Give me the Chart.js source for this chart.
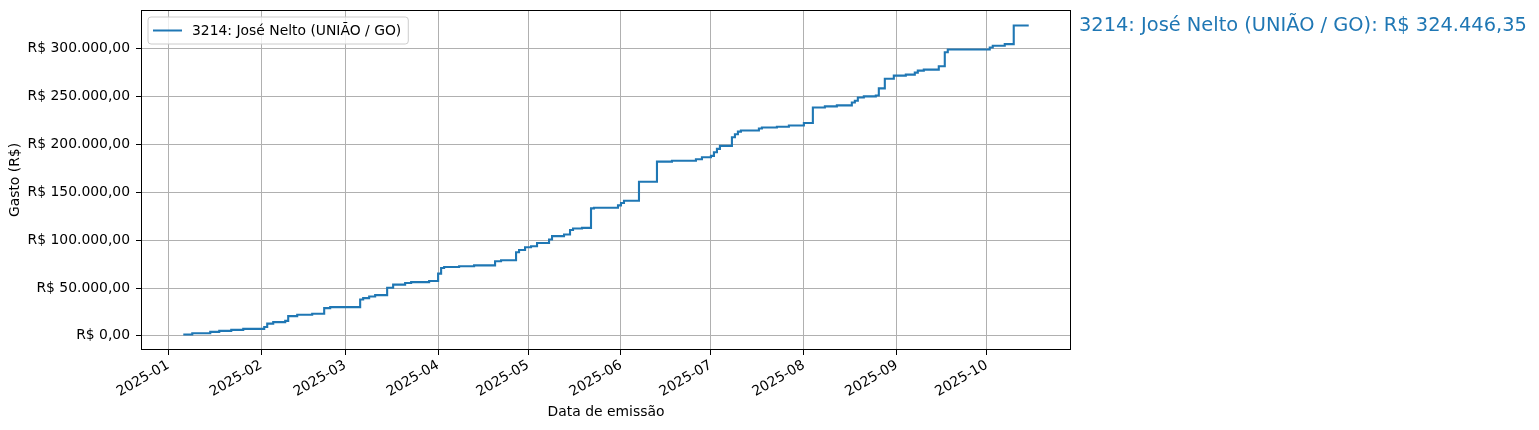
<!DOCTYPE html>
<html><head><meta charset="utf-8">
<script src="https://cdn.jsdelivr.net/npm/chart.js@4/dist/chart.umd.min.js"></script>
<style>html,body{margin:0;padding:0;background:#fff}#wrap{width:1539px;height:430px;position:relative}</style>
</head><body><div id="wrap"><canvas id="c"></canvas></div>
<script>
const seriesLabel = '3214: José Nelto (UNIÃO / GO)';
const totalLabel = 'R$ 324.446,35';
const xAxisTitle = 'Data de emissão';
const yAxisTitle = 'Gasto (R$)';

const emissionDates = [
 '2025-01-06','2025-01-09','2025-01-15','2025-01-18','2025-01-22','2025-01-26',
 '2025-02-02','2025-02-03','2025-02-05','2025-02-09','2025-02-10','2025-02-13','2025-02-18','2025-02-22','2025-02-24',
 '2025-03-06','2025-03-07','2025-03-09','2025-03-11','2025-03-15','2025-03-17','2025-03-21','2025-03-23','2025-03-29',
 '2025-04-01','2025-04-02','2025-04-03','2025-04-08','2025-04-13','2025-04-20','2025-04-22','2025-04-27','2025-04-28','2025-04-30',
 '2025-05-02','2025-05-04','2025-05-08','2025-05-09','2025-05-13','2025-05-15','2025-05-16','2025-05-19','2025-05-22','2025-05-23','2025-05-31',
 '2025-06-01','2025-06-02','2025-06-07','2025-06-13','2025-06-18','2025-06-26','2025-06-28',
 '2025-07-01','2025-07-02','2025-07-03','2025-07-04','2025-07-08','2025-07-09','2025-07-10','2025-07-11','2025-07-17','2025-07-18','2025-07-23','2025-07-27',
 '2025-08-01','2025-08-04','2025-08-08','2025-08-12','2025-08-17','2025-08-18','2025-08-19','2025-08-21','2025-08-25','2025-08-26','2025-08-28','2025-08-31',
 '2025-09-04','2025-09-07','2025-09-08','2025-09-10','2025-09-15','2025-09-17','2025-09-18',
 '2025-10-02','2025-10-03','2025-10-07','2025-10-10','2025-10-15'
];
const cumulativeSpend = [
 1360,2720,4190,5230,6280,7330,
 9300,12800,14300,15700,20600,22000,23100,29000,30000,
 38000,39400,41200,42600,50300,53500,55200,56200,57300,
 65000,70900,72000,72700,73700,77900,79000,87400,89800,92600,
 93700,97100,100700,104200,105900,110700,112200,112900,133200,133900,136400,
 138800,141200,161100,182100,183100,184600,186700,
 188100,191900,195400,198600,207600,210800,213500,214600,216700,217800,218500,219900,
 222500,238700,239900,240900,243900,245700,249200,250300,251300,258700,268800,272000,
 273000,275100,277200,278300,281800,296500,299300,
 301400,303200,304900,324446.35,324446.35
];
const xTickDates = ['2025-01-01','2025-02-01','2025-03-01','2025-04-01','2025-05-01','2025-06-01','2025-07-01','2025-08-01','2025-09-01','2025-10-01'];
const xTickLabels = ['2025-01','2025-02','2025-03','2025-04','2025-05','2025-06','2025-07','2025-08','2025-09','2025-10'];
const yTickValues = [0,50000,100000,150000,200000,250000,300000];
const yTickLabels = ['R$ 0,00','R$ 50.000,00','R$ 100.000,00','R$ 150.000,00','R$ 200.000,00','R$ 250.000,00','R$ 300.000,00'];

const BASE = Date.UTC(2025,0,1);
function dayNum(s){const p=s.split('-').map(Number);return (Date.UTC(p[0],p[1]-1,p[2])-BASE)/86400000;}

const FONT = 'DejaVu Sans';
Chart.defaults.font.family = FONT;
Chart.defaults.font.size = 13.9;
Chart.defaults.color = '#000';

const pts = emissionDates.map((d,i)=>({x:dayNum(d),y:cumulativeSpend[i]}));
const xs = pts.map(p=>p.x), ys = pts.map(p=>p.y);
const x0=Math.min(...xs), x1=Math.max(...xs), xp=(x1-x0)*0.05;
const y0=Math.min(...ys), y1=Math.max(...ys), yp=(y1-y0)*0.05;
const LINE_COLOR = '#1f77b4';

const framePlugin = {
  id:'frame',
  afterDatasetsDraw(chart){
    const {ctx, chartArea:a} = chart;
    ctx.save(); ctx.strokeStyle='#000'; ctx.lineWidth=1;
    const L=Math.round(a.left)+0.5, T=Math.round(a.top)+0.5, R=Math.round(a.right)-0.5, B=Math.round(a.bottom)-0.5;
    ctx.strokeRect(L, T, R-L, B-T);
    ctx.restore();
  }
};
const legendPlugin = {
  id:'legendBox',
  afterDraw(chart){
    const {ctx, chartArea:a} = chart;
    ctx.save();
    ctx.font = '13.9px "'+FONT+'"';
    const tw = ctx.measureText(seriesLabel).width;
    const L = a.left+7, T = a.top+7, W = 44+tw+7, H = 27, r = 3;
    ctx.beginPath();
    ctx.moveTo(L+r,T); ctx.lineTo(L+W-r,T); ctx.quadraticCurveTo(L+W,T,L+W,T+r);
    ctx.lineTo(L+W,T+H-r); ctx.quadraticCurveTo(L+W,T+H,L+W-r,T+H);
    ctx.lineTo(L+r,T+H); ctx.quadraticCurveTo(L,T+H,L,T+H-r);
    ctx.lineTo(L,T+r); ctx.quadraticCurveTo(L,T,L+r,T); ctx.closePath();
    ctx.fillStyle='rgba(255,255,255,0.8)'; ctx.fill();
    ctx.strokeStyle='#cccccc'; ctx.lineWidth=1; ctx.stroke();
    const cy = T+H/2;
    ctx.beginPath(); ctx.moveTo(L+5,cy); ctx.lineTo(L+34,cy);
    ctx.strokeStyle=LINE_COLOR; ctx.lineWidth=2; ctx.stroke();
    ctx.fillStyle='#000'; ctx.textAlign='left'; ctx.textBaseline='middle';
    ctx.fillText(seriesLabel, L+44, cy+1);
    ctx.restore();
  }
};
const endLabelPlugin = {
  id:'endLabel',
  afterDraw(chart){
    const {ctx, chartArea:a, scales} = chart;
    const last = cumulativeSpend[cumulativeSpend.length-1];
    ctx.save();
    ctx.font = '19.4px "'+FONT+'"';
    ctx.fillStyle = LINE_COLOR; ctx.textAlign='left'; ctx.textBaseline='middle';
    ctx.fillText(seriesLabel+': '+totalLabel, a.right+8, scales.y.getPixelForValue(last)+1);
    ctx.restore();
  }
};

new Chart(document.getElementById('c'), {
  type:'line',
  data:{datasets:[{label:seriesLabel, data:pts, borderColor:LINE_COLOR, borderWidth:2.1, pointRadius:0, stepped:true, fill:false, tension:0}]},
  options:{
    responsive:true, maintainAspectRatio:false, animation:false,
    layout:{padding:{left:0, top:10, right:468, bottom:0}},
    plugins:{legend:{display:false}, tooltip:{enabled:false}},
    scales:{
      x:{
        type:'linear', min:x0-xp, max:x1+xp,
        afterBuildTicks(s){ s.ticks = xTickDates.map(d=>({value:dayNum(d)})); },
        ticks:{autoSkip:false, maxRotation:30, minRotation:30, padding:2,
          callback(v){ const i = xTickDates.findIndex(d=>dayNum(d)===v); return i>=0?xTickLabels[i]:''; }},
        grid:{color:'#b0b0b0', lineWidth:1, tickColor:'#000', tickLength:5},
        border:{display:false},
        title:{display:true, text:xAxisTitle, padding:{top:0,bottom:9}},
        afterFit(s){ s.height = 80; s.paddingLeft = 0; s.paddingRight = 0; }
      },
      y:{
        type:'linear', min:y0-yp, max:y1+yp,
        afterBuildTicks(s){ s.ticks = yTickValues.map(v=>({value:v})); },
        ticks:{padding:6, callback(v){ const i=yTickValues.indexOf(v); return i>=0?yTickLabels[i]:''; }},
        grid:{color:'#b0b0b0', lineWidth:1, tickColor:'#000', tickLength:5},
        border:{display:false},
        title:{display:true, text:yAxisTitle, padding:{top:7,bottom:0}},
        afterFit(s){ s.width = 141; s.paddingTop = 0; s.paddingBottom = 0; }
      }
    }
  },
  plugins:[framePlugin, legendPlugin, endLabelPlugin]
});
</script></body></html>
